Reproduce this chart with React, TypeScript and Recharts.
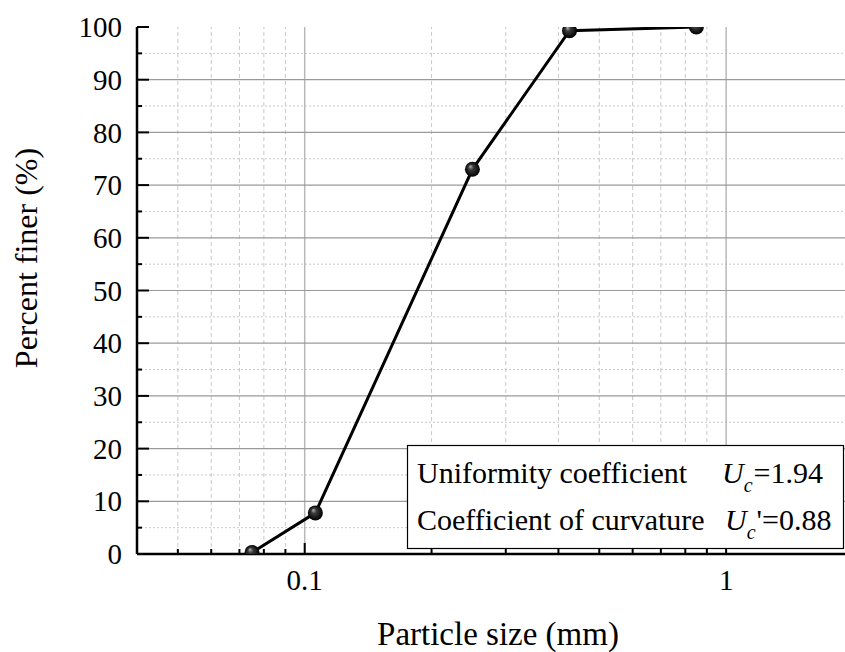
import React from 'react';
import { LineChart, Line, XAxis, YAxis, ReferenceLine } from 'recharts';

// grain size distribution
const sizes = [0.075, 0.106, 0.25, 0.425, 0.85];
const finer = [0.3, 7.8, 73, 99.3, 100];

const xTicks = [0.04, 0.05, 0.06, 0.07, 0.08, 0.09, 0.1, 0.2, 0.3, 0.4, 0.5, 0.6, 0.7, 0.8, 0.9, 1, 2];
const xMajor = [0.1, 1];
const yTicks = [0, 5, 10, 15, 20, 25, 30, 35, 40, 45, 50, 55, 60, 65, 70, 75, 80, 85, 90, 95, 100];
const yMajor = [0, 10, 20, 30, 40, 50, 60, 70, 80, 90, 100];

const data = sizes.map((s, i) => ({ size: s, finer: finer[i] }));

const FONT = "'Liberation Serif', 'Times New Roman', serif";

// plot box (follows from the chart margins and axis sizes below)
const PLOT = { x: 137, y: 27, w: 716, h: 527 };

const BottomTick = (props: any) => {
  const { x, y, payload } = props;
  const major = xMajor.includes(payload.value);
  return (
    <g>
      <line x1={x} x2={x} y1={y} y2={y - (major ? 11 : 5)} stroke="#000" strokeWidth={2} />
      {major && (
        <text x={x} y={y + 36} textAnchor="middle" fontSize={29} fontFamily={FONT} fill="#000">
          {payload.value}
        </text>
      )}
    </g>
  );
};

const TopTick = (props: any) => {
  const { x, y, payload } = props;
  const major = xMajor.includes(payload.value);
  return <line x1={x} x2={x} y1={y} y2={y + (major ? 11 : 5)} stroke="#000" strokeWidth={2} />;
};

const LeftTick = (props: any) => {
  const { x, y, payload } = props;
  const major = yMajor.includes(payload.value);
  return (
    <g>
      <line x1={x} x2={x + (major ? 12 : 5)} y1={y} y2={y} stroke="#000" strokeWidth={2} />
      {major && (
        <text x={x - 15} y={y} dy="0.35em" textAnchor="end" fontSize={29} fontFamily={FONT} fill="#000">
          {payload.value}
        </text>
      )}
    </g>
  );
};

const RightTick = (props: any) => {
  const { x, y, payload } = props;
  const major = yMajor.includes(payload.value);
  return <line x1={x} x2={x - (major ? 12 : 5)} y1={y} y2={y} stroke="#000" strokeWidth={2} />;
};

const Ball = (props: any) => {
  const { cx, cy, index } = props;
  return <circle key={`ball-${index}`} cx={cx} cy={cy} r={7.5} fill="url(#ball)" clipPath="url(#plotArea)" />;
};

export default function App() {
  return (
    <div style={{ position: 'absolute', left: 0, top: 0, width: 845, height: 652, overflow: 'hidden', background: '#fff' }}>
      <LineChart width={860} height={652} data={data} margin={{ top: 27, right: 7, bottom: 0, left: 0 }}>
        <defs>
          <radialGradient id="ball" cx="50%" cy="50%" r="50%" fx="35%" fy="30%">
            <stop offset="0%" stopColor="#b5b5b5" />
            <stop offset="35%" stopColor="#3a3a3a" />
            <stop offset="100%" stopColor="#000" />
          </radialGradient>
          <clipPath id="plotArea">
            <rect x={PLOT.x} y={PLOT.y} width={PLOT.w} height={PLOT.h} />
          </clipPath>
        </defs>

        {/* minor grid */}
        {xTicks.filter((v) => !xMajor.includes(v)).map((v) => (
          <ReferenceLine key={`vx-${v}`} x={v} stroke="#c8c8c8" strokeWidth={1} strokeDasharray="4 3" />
        ))}
        {yTicks.filter((v) => !yMajor.includes(v)).map((v) => (
          <ReferenceLine key={`hy-${v}`} y={v} stroke="#c8c8c8" strokeWidth={1} strokeDasharray="2 2" />
        ))}
        {/* major grid */}
        {xMajor.map((v) => (
          <ReferenceLine key={`VX-${v}`} x={v} stroke="#b8b8b8" strokeWidth={1.5} />
        ))}
        {yMajor.filter((v) => v > 0 && v < 100).map((v) => (
          <ReferenceLine key={`HY-${v}`} y={v} stroke="#9a9a9a" strokeWidth={1.2} />
        ))}

        <XAxis
          dataKey="size"
          type="number"
          scale="log"
          domain={[0.04, 2]}
          allowDataOverflow
          ticks={xTicks}
          interval={0}
          height={98}
          tickSize={0}
          tickMargin={0}
          tickLine={false}
          tick={BottomTick}
          axisLine={{ stroke: '#000', strokeWidth: 2.5 }}
        />
        <XAxis
          xAxisId="top"
          orientation="top"
          dataKey="size"
          type="number"
          scale="log"
          domain={[0.04, 2]}
          allowDataOverflow
          ticks={xTicks}
          interval={0}
          height={0}
          tickSize={0}
          tickMargin={0}
          tickLine={false}
          tick={TopTick}
          axisLine={{ stroke: '#000', strokeWidth: 2.5 }}
        />
        <YAxis
          type="number"
          domain={[0, 100]}
          allowDataOverflow
          ticks={yTicks}
          interval={0}
          width={137}
          tickSize={0}
          tickMargin={0}
          tickLine={false}
          tick={LeftTick}
          axisLine={{ stroke: '#000', strokeWidth: 2.5 }}
        />
        <YAxis
          yAxisId="right"
          orientation="right"
          type="number"
          domain={[0, 100]}
          allowDataOverflow
          ticks={yTicks}
          interval={0}
          width={0}
          tickSize={0}
          tickMargin={0}
          tickLine={false}
          tick={RightTick}
          axisLine={{ stroke: '#000', strokeWidth: 2.5 }}
        />

        <Line
          dataKey="finer"
          stroke="#000"
          strokeWidth={3}
          dot={Ball}
          activeDot={false}
          isAnimationActive={false}
        />
      </LineChart>

      <svg
        width={845}
        height={652}
        style={{ position: 'absolute', left: 0, top: 0, pointerEvents: 'none' }}
        fontFamily={FONT}
      >
        <text x={498} y={645} textAnchor="middle" fontSize={33}>Particle size (mm)</text>
        <text x={0} y={0} transform="translate(37 258) rotate(-90)" textAnchor="middle" fontSize={32}>
          Percent finer (%)
        </text>

        <rect x={407.5} y={445.5} width={436} height={103} fill="#fff" stroke="#000" strokeWidth={1.2} />
        <text x={417} y={483} fontSize={30}>Uniformity coefficient</text>
        <text x={722} y={483} fontSize={30}>
          <tspan fontStyle="italic">U</tspan>
          <tspan fontStyle="italic" fontSize={20} dy={9}>c</tspan>
          <tspan dy={-9} dx={1}>=1.94</tspan>
        </text>
        <text x={417} y={530} fontSize={30}>Coefficient of curvature</text>
        <text x={725} y={530} fontSize={30}>
          <tspan fontStyle="italic">U</tspan>
          <tspan fontStyle="italic" fontSize={20} dy={9}>c</tspan>
          <tspan dy={-9} dx={1}>'=0.88</tspan>
        </text>
      </svg>
    </div>
  );
}
